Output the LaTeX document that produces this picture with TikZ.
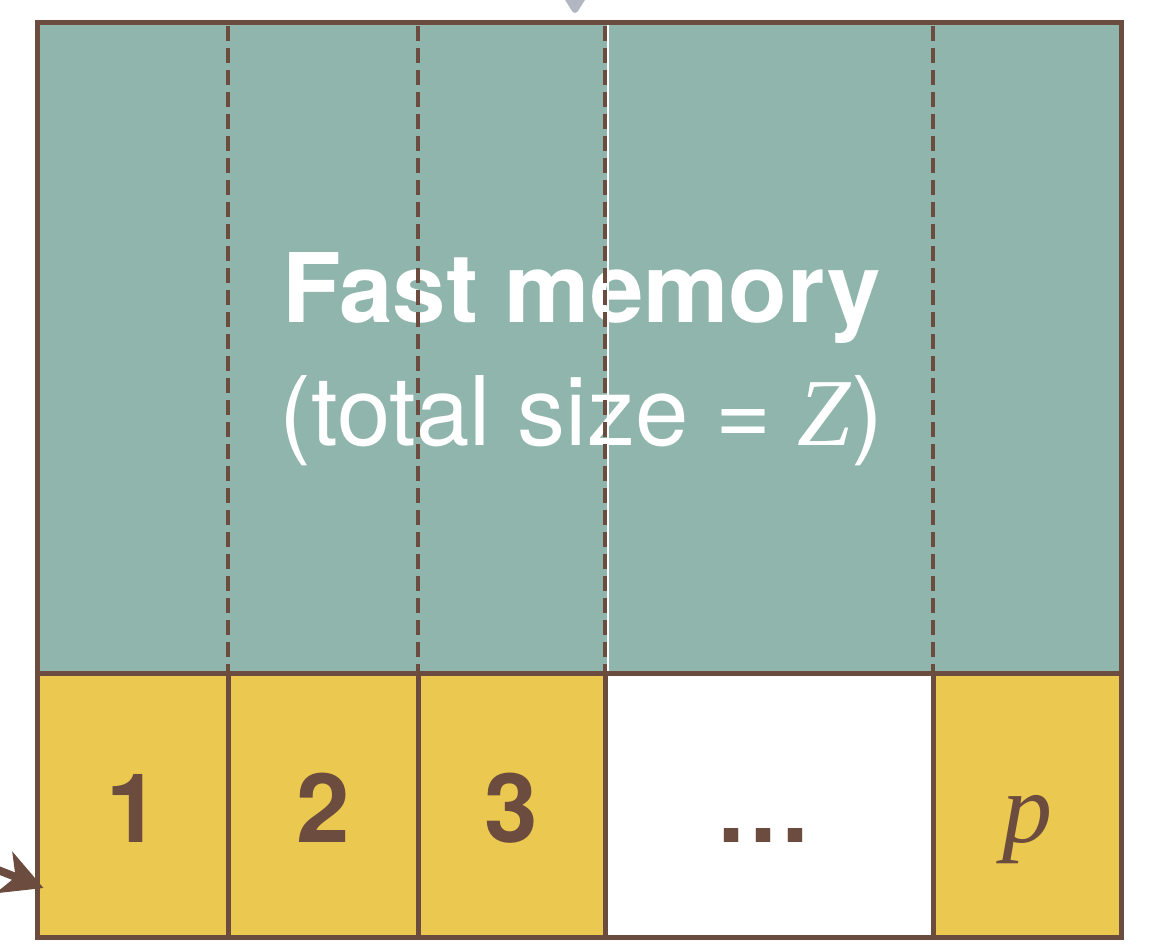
\documentclass[tikz,border=0pt]{standalone}
\usepackage{fontspec}
\setsansfont{TeX Gyre Heros}
\newfontfamily\varfont{Liberation Serif}
\usetikzlibrary{arrows.meta}

\definecolor{teal}{HTML}{90B5AD}
\definecolor{gold}{HTML}{EBC951}
\definecolor{bark}{HTML}{6C4C3F}
\definecolor{mist}{HTML}{B1B6C0}

\newcommand{\varname}[1]{{\varfont\itshape #1}}

\tikzset{
  edge/.style={draw=bark, line width=5pt, line cap=rect},
  split/.style={draw=bark, line width=3.5pt, dash pattern=on 15pt off 7pt},
  big/.style={font=\sffamily\fontsize{96}{110}\selectfont, inner sep=0pt, anchor=base},
  cellnum/.style={big, text=bark, font=\sffamily\bfseries\fontsize{96}{110}\selectfont},
}

\begin{document}
\begin{tikzpicture}[x=1pt, y=-1pt]
  \useasboundingbox (0,0) rectangle (1154,952);

  % corner and divider coordinates
  \coordinate (tl) at (37.5,23);
  \coordinate (br) at (1121.5,937.5);
  \coordinate (ml) at (37.5,673.5);
  \coordinate (mr) at (1121.5,673.5);

  % fast memory block
  \fill[teal] (tl) rectangle (mr);

  % processor cells
  \fill[gold] (37.5,673.5) rectangle (228,937.5);
  \fill[gold] (228,673.5) rectangle (418,937.5);
  \fill[gold] (418,673.5) rectangle (605,937.5);
  \fill[gold] (933,673.5) rectangle (1121.5,937.5);

  % labels
  \node[big, text=white, font=\sffamily\bfseries\fontsize{96}{110}\selectfont] (title) at (581.5,322) {Fast memory};
  \node[big, text=white] (size) at (581.5,445) {(total size = \varname{Z})};
  \node[cellnum] (n1) at (132.75,842) {1};
  \node[cellnum] (n2) at (323,842) {2};
  \node[cellnum] (n3) at (511.5,842) {3};
  \node[cellnum] (ndots) at (763,842) {…};
  \node[big, text=bark, font=\fontsize{100}{110}\selectfont] (np) at (1027,842) {\varname{p}};

  % partition lines of the fast memory
  \draw[white, line width=2pt] (607.5,23) -- (607.5,673.5);
  \foreach \x in {228,418,605,933}
    \draw[split] (\x,26) -- (\x,673.5);

  % outlines
  \draw[edge] (tl) rectangle (br);
  \draw[edge] (ml) -- (mr);
  \foreach \x in {228,418,605,933}
    \draw[edge] (\x,673.5) -- (\x,937.5);

  % incoming arrows
  \begin{scope}
    \clip (0,0) rectangle (1154,952);
    \coordinate (topsrc) at (575,-80);
    \coordinate (toptip) at (575,13);
    \draw[mist, line width=8pt, -{Triangle[length=26pt, width=30pt, round]}] (topsrc) -- (toptip);
    \coordinate (leftsrc) at (-60,847);
    \coordinate (lefttip) at (43.5,888);
    \draw[bark, line width=8pt, -{Stealth[length=42pt, width=44pt, inset=12pt]}] (leftsrc) -- (lefttip);
  \end{scope}
\end{tikzpicture}
\end{document}
